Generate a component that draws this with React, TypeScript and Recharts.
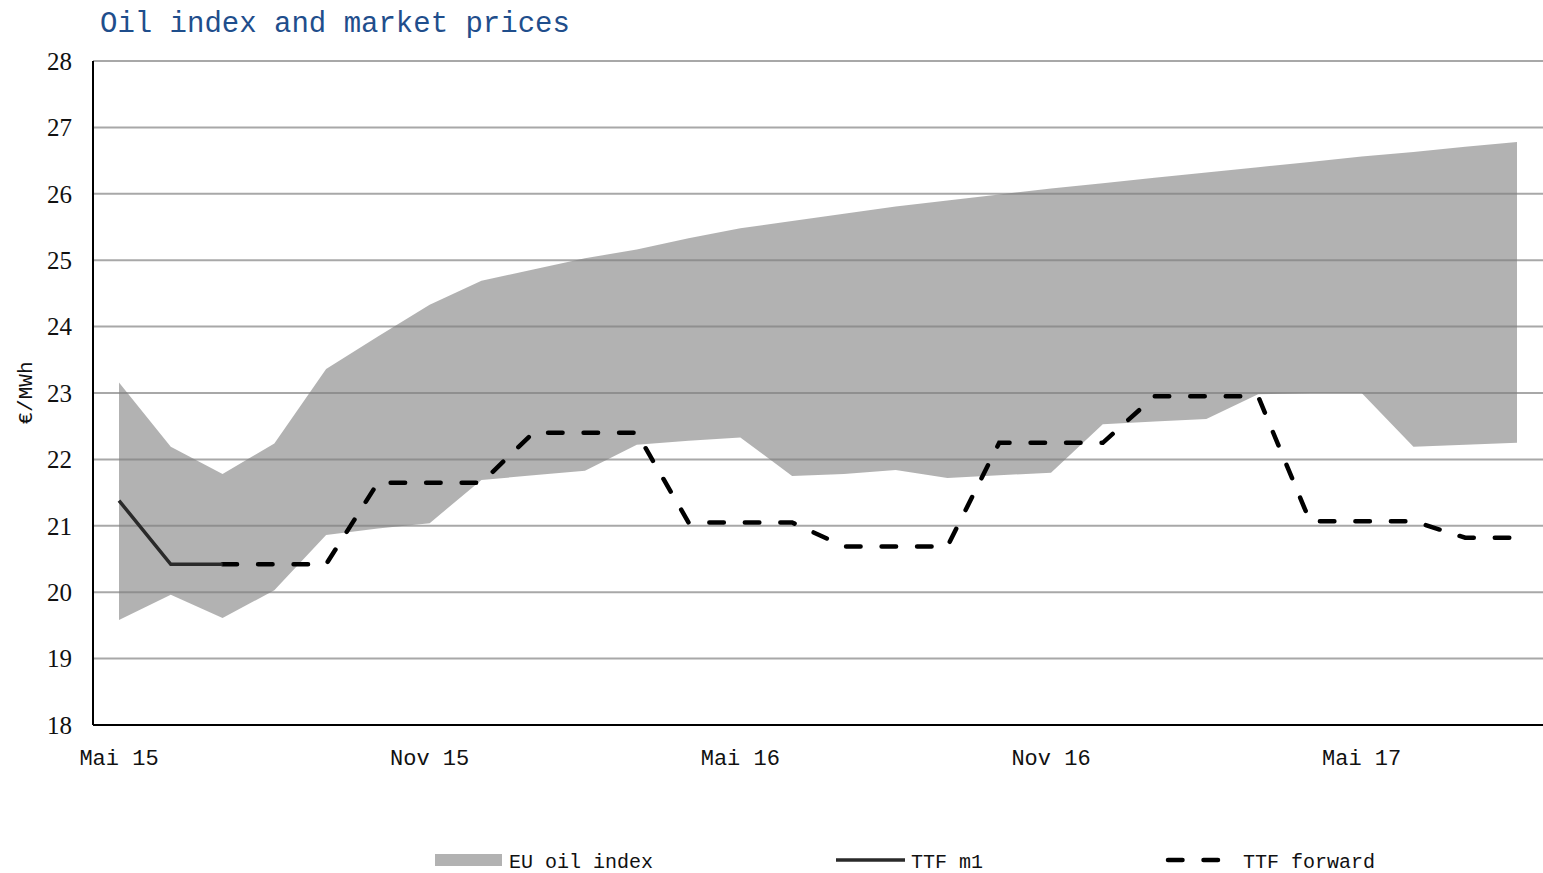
import { Area, CartesianGrid, ComposedChart, Line, XAxis, YAxis } from "recharts";

const MONTHS = [
  "Mai 15", "Jun 15", "Jul 15", "Aug 15", "Sep 15", "Okt 15", "Nov 15",
  "Dez 15", "Jan 16", "Feb 16", "Mär 16", "Apr 16", "Mai 16", "Jun 16",
  "Jul 16", "Aug 16", "Sep 16", "Okt 16", "Nov 16", "Dez 16", "Jan 17",
  "Feb 17", "Mär 17", "Apr 17", "Mai 17", "Jun 17", "Jul 17", "Aug 17",
];

// EU oil index band (upper / lower edge)
const OIL_HIGH = [
  23.16, 22.19, 21.78, 22.24, 23.36, 23.85, 24.33, 24.69, 24.86, 25.03,
  25.16, 25.33, 25.48, 25.59, 25.7, 25.81, 25.9, 25.99, 26.08, 26.16,
  26.24, 26.32, 26.4, 26.48, 26.56, 26.63, 26.71, 26.78,
];
const OIL_LOW = [
  19.58, 19.96, 19.61, 20.03, 20.86, 20.96, 21.04, 21.69, 21.76, 21.83,
  22.22, 22.28, 22.33, 21.75, 21.78, 21.84, 21.72, 21.76, 21.8, 22.53,
  22.57, 22.61, 22.98, 23.0, 23.0, 22.19, 22.22, 22.25,
];

const TTF_M1: (number | null)[] = [21.38, 20.42, 20.42];
const TTF_FWD: (number | null)[] = [
  null, null, 20.42, 20.42, 20.42, 21.65, 21.65, 21.65, 22.4, 22.4,
  22.4, 21.05, 21.05, 21.05, 20.69, 20.69, 20.69, 22.25, 22.25, 22.25,
  22.95, 22.95, 22.95, 21.07, 21.07, 21.07, 20.82, 20.82,
];

const Y_TICKS = [18, 19, 20, 21, 22, 23, 24, 25, 26, 27, 28];

const rows = MONTHS.map((month, i) => ({
  month,
  oil: [OIL_LOW[i], OIL_HIGH[i]],
  m1: TTF_M1[i] ?? null,
  fwd: TTF_FWD[i] ?? null,
}));

const MONO = "'Liberation Mono', 'DejaVu Sans Mono', monospace";
const SERIF = "'Liberation Serif', 'DejaVu Serif', serif";
const TITLE_COLOR = "#1F4E8C";
const BAND_FILL = "#7f7f7f";
const DASH = "14.5 21";

export default function App() {
  return (
    <div style={{ position: "absolute", left: 0, top: 0, width: 1543, height: 873, background: "#fff" }}>
      <ComposedChart
        width={1543}
        height={873}
        data={rows}
        margin={{ top: 61, right: 0, bottom: 108, left: 0 }}
      >
        <CartesianGrid vertical={false} stroke="#a8a8a8" strokeWidth={2} />
        <XAxis
          dataKey="month"
          interval={5}
          padding={{ left: 26, right: 26 }}
          axisLine={{ stroke: "#000", strokeWidth: 2 }}
          tickLine={false}
          tickSize={0}
          tickMargin={24}
          height={40}
          tick={{ fill: "#111", fontSize: 22, fontFamily: MONO }}
        />
        <YAxis
          width={93}
          domain={[18, 28]}
          ticks={Y_TICKS}
          axisLine={{ stroke: "#000", strokeWidth: 2 }}
          tickLine={false}
          tickSize={0}
          tickMargin={21}
          tick={{ fill: "#111", fontSize: 25, fontFamily: SERIF }}
        />
        <Area
          type="linear"
          dataKey="oil"
          name="EU oil index"
          stroke="none"
          fill={BAND_FILL}
          fillOpacity={0.6}
          isAnimationActive={false}
        />
        <Line
          type="linear"
          dataKey="fwd"
          name="TTF forward"
          stroke="#000"
          strokeWidth={4.5}
          strokeDasharray={DASH}
          strokeLinecap="round"
          dot={false}
          activeDot={false}
          isAnimationActive={false}
        />
        <Line
          type="linear"
          dataKey="m1"
          name="TTF m1"
          stroke="#2a2a2a"
          strokeWidth={3.5}
          dot={false}
          activeDot={false}
          isAnimationActive={false}
        />
      </ComposedChart>

      <svg
        width={1543}
        height={873}
        style={{ position: "absolute", left: 0, top: 0, pointerEvents: "none" }}
      >
        <text x={100} y={32} fontFamily={MONO} fontSize={29} fill={TITLE_COLOR}>
          Oil index and market prices
        </text>
        <text
          x={32}
          y={393}
          transform="rotate(-90 32 393)"
          textAnchor="middle"
          fontFamily={MONO}
          fontSize={21}
          fill="#111"
        >
          €/MWh
        </text>

        {/* legend */}
        <rect x={435} y={854} width={67} height={12} fill={BAND_FILL} fillOpacity={0.6} />
        <text x={509} y={868} fontFamily={MONO} fontSize={20} fill="#111">EU oil index</text>
        <line x1={836} y1={860} x2={905} y2={860} stroke="#2a2a2a" strokeWidth={3.5} />
        <text x={911} y={868} fontFamily={MONO} fontSize={20} fill="#111">TTF m1</text>
        <line
          x1={1168}
          y1={860}
          x2={1220}
          y2={860}
          stroke="#000"
          strokeWidth={4.5}
          strokeDasharray={DASH}
          strokeLinecap="round"
        />
        <text x={1243} y={868} fontFamily={MONO} fontSize={20} fill="#111">TTF forward</text>
      </svg>
    </div>
  );
}
